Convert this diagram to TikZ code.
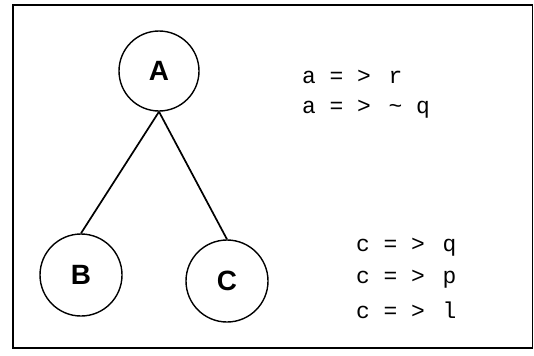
\documentclass[tikz,border=0pt]{standalone}
\usepackage{fontspec}
\setmainfont{Liberation Sans}
\newfontfamily\monofnt{Liberation Mono}
\begin{document}
\begin{tikzpicture}[x=1bp,y=-1bp,
  vnode/.style={circle,draw,line width=1.4bp,minimum size=80bp,inner sep=0pt,font=\fontsize{28}{28}\selectfont\bfseries},
  edge/.style={line width=1.7bp},
  rule/.style={anchor=west,inner sep=0pt,font=\monofnt\fontsize{23}{23}\selectfont}]
\useasboundingbox (0,0) rectangle (534,355);
\draw[line width=1.6bp] (13,5) rectangle (532.5,348);
\node[vnode] (A) at (159,71) {A};
\node[vnode,minimum size=82bp] (B) at (81,275) {B};
\node[vnode,minimum size=82bp] (C) at (227,281) {C};
\draw[edge] (A.south) -- (B.north);
\draw[edge] (A.south) -- (C.north);
\node[rule] (r1) at (302,77) {a = >\hspace{4bp} r};
\node[rule] (r2) at (302,109) {a = >\hspace{4bp} \~{} q};
\node[rule] (r3) at (356,247) {c = >\hspace{4bp} q};
\node[rule] (r4) at (356,279) {c = >\hspace{4bp} p};
\node[rule] (r5) at (356,310) {c = >\hspace{4bp} l};
\end{tikzpicture}
\end{document}
